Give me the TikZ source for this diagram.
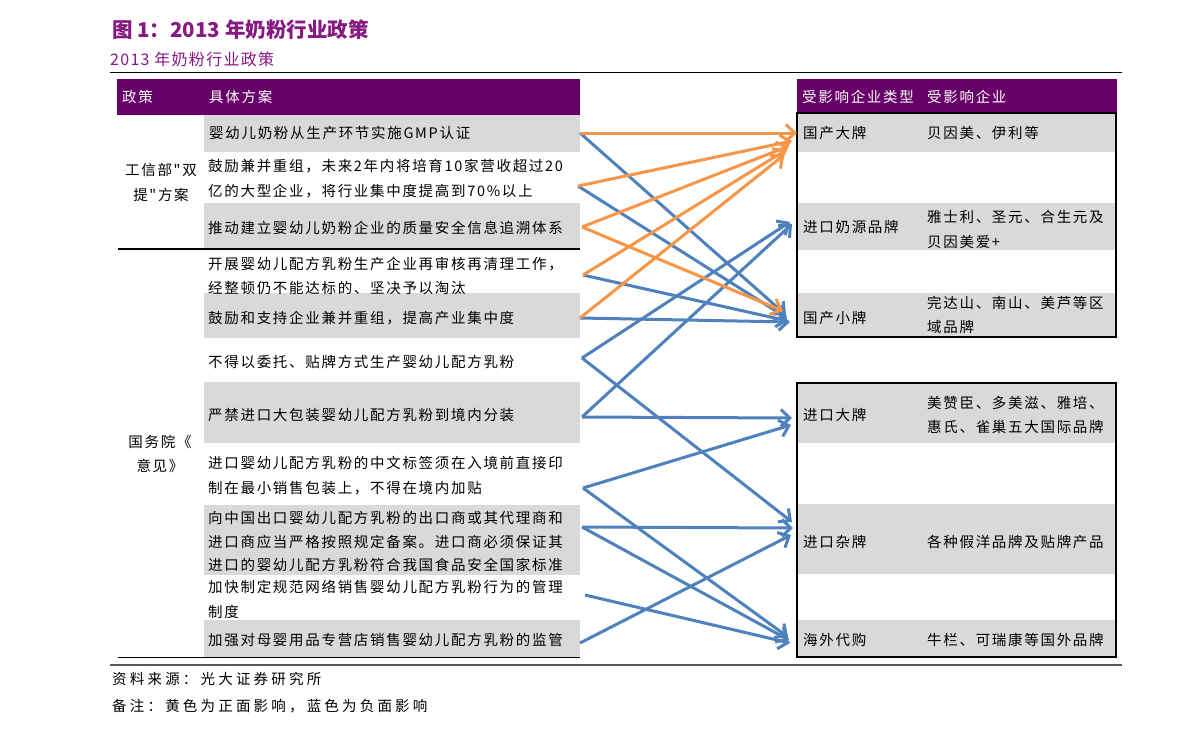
\documentclass[tikz,border=0pt]{standalone}
\usepackage{fontspec}
\setmainfont{Noto Sans CJK SC}
\newfontfamily\bodyf[LetterSpace=11.7]{Noto Sans CJK SC}
\newfontfamily\footf[LetterSpace=22]{Noto Sans CJK SC}
\newfontfamily\subf[LetterSpace=8]{Noto Sans CJK SC}
\usetikzlibrary{arrows.meta}
\definecolor{hdr}{HTML}{660066}
\definecolor{ttl}{RGB}{135,25,130}
\definecolor{rowg}{HTML}{D9D9D9}
\definecolor{pos}{HTML}{F79646}
\definecolor{neg}{HTML}{4F81BD}
\tikzset{
  body/.style={anchor=west,inner sep=0pt,align=left,font=\bodyf\fontsize{14.5pt}{24.5pt}\selectfont},
  lbl/.style={inner sep=0pt,align=center,font=\bodyf\fontsize{14.5pt}{24.5pt}\selectfont},
  hdrtxt/.style={anchor=west,inner sep=0pt,text=white,font=\bodyf\fontsize{14.5pt}{17pt}\selectfont},
  foot/.style={anchor=west,inner sep=0pt,font=\footf\fontsize{14.5pt}{17pt}\selectfont},
  conn/.style={line width=3pt,line join=miter,-{Straight Barb[length=9pt,width=17pt]}},
  posarr/.style={conn,draw=pos},
  negarr/.style={conn,draw=neg}
}
\begin{document}
\begin{tikzpicture}[x=1pt,y=-1pt]
\useasboundingbox[fill=white] (0,0) rectangle (1191,734);
% title
\node[anchor=west,inner sep=0pt,text=ttl,font=\bfseries\fontsize{20.5pt}{24pt}\selectfont] (title) at (112,30) {图 1：2013 年奶粉行业政策};
\node[anchor=west,inner sep=0pt,text=ttl,font=\subf\fontsize{16pt}{19pt}\selectfont] (sub) at (110,59) {2013 年奶粉行业政策};
\draw[line width=1.3pt] (110,72.5) -- (1122,72.5);
% left header
\fill[hdr] (117,79) rectangle (580,115);
\node[hdrtxt] (h1) at (122,97) {政策};
\node[hdrtxt] (h2) at (209,97) {具体方案};
% left rows
\fill[rowg] (204,115) rectangle (580,152);
\fill[rowg] (204,203) rectangle (580,248);
\fill[rowg] (204,293) rectangle (580,338);
\fill[rowg] (204,382) rectangle (580,443);
\fill[rowg] (204,505) rectangle (580,575);
\fill[rowg] (204,620) rectangle (580,657);
\draw[line width=1.2pt] (118,249) -- (580,249);
\draw[line width=1.6pt] (118,657.5) -- (580,657.5);
\draw[line width=1.3pt,black!65] (110,665) -- (1122,665);
\node[lbl] (g1) at (161,182.5) {工信部"双\\提"方案};
\node[lbl] (g2) at (160,454) {国务院《\\意见》};
\node[body] (r1) at (209,133) {婴幼儿奶粉从生产环节实施GMP认证};
\node[body] (r2) at (208,178.5) {鼓励兼并重组，未来2年内将培育10家营收超过20\\亿的大型企业，将行业集中度提高到70\%以上};
\node[body] (r3) at (208,228) {推动建立婴幼儿奶粉企业的质量安全信息追溯体系};
\node[body] (r4) at (208,276) {开展婴幼儿配方乳粉生产企业再审核再清理工作，\\经整顿仍不能达标的、坚决予以淘汰};
\node[body] (r5) at (208,318) {鼓励和支持企业兼并重组，提高产业集中度};
\node[body] (r6) at (208,362) {不得以委托、贴牌方式生产婴幼儿配方乳粉};
\node[body] (r7) at (208,415) {严禁进口大包装婴幼儿配方乳粉到境内分装};
\node[body] (r8) at (208,475.5) {进口婴幼儿配方乳粉的中文标签须在入境前直接印\\制在最小销售包装上，不得在境内加贴};
\node[body,font=\bodyf\fontsize{14.5pt}{23.5pt}\selectfont] (r9) at (208,541.5) {向中国出口婴幼儿配方乳粉的出口商或其代理商和\\进口商应当严格按照规定备案。进口商必须保证其\\进口的婴幼儿配方乳粉符合我国食品安全国家标准};
\node[body] (r10) at (208,599.5) {加快制定规范网络销售婴幼儿配方乳粉行为的管理\\制度};
\node[body] (r11) at (208,640) {加强对母婴用品专营店销售婴幼儿配方乳粉的监管};
% right header
\fill[hdr] (797,79) rectangle (1117,113);
\node[hdrtxt] (h3) at (802,97) {受影响企业类型};
\node[hdrtxt] (h4) at (927,97) {受影响企业};
% right box 1
\fill[rowg] (797,113) rectangle (1116,152);
\fill[rowg] (797,203) rectangle (1116,250);
\fill[rowg] (797,293) rectangle (1116,337);
\node[body] (t1) at (803,133) {国产大牌};
\node[body] (e1) at (927,133) {贝因美、伊利等};
\node[body] (t2) at (803,227) {进口奶源品牌};
\node[body] (e2) at (927,229.5) {雅士利、圣元、合生元及\\贝因美爱+};
\node[body] (t3) at (803,318) {国产小牌};
\node[body] (e3) at (927,315) {完达山、南山、美芦等区\\域品牌};
\draw[line width=1.8pt] (797,113) rectangle (1116,337);
% right box 2
\fill[rowg] (797,383) rectangle (1116,443);
\fill[rowg] (797,504) rectangle (1116,574);
\fill[rowg] (797,620) rectangle (1116,657);
\node[body] (t4) at (803,415) {进口大牌};
\node[body] (e4) at (927,415) {美赞臣、多美滋、雅培、\\惠氏、雀巢五大国际品牌};
\node[body] (t5) at (803,542) {进口杂牌};
\node[body] (e5) at (927,542) {各种假洋品牌及贴牌产品};
\node[body] (t6) at (803,640) {海外代购};
\node[body] (e6) at (927,640) {牛栏、可瑞康等国外品牌};
\draw[line width=1.8pt] (797,383) rectangle (1116,657);
% footer
\node[foot] (f1) at (112,679) {资料来源：光大证券研究所};
\node[foot] (f2) at (112,706) {备注：黄色为正面影响，蓝色为负面影响};
% connector ends
\coordinate (L1) at (580,133);
\coordinate (L2) at (578,186);
\coordinate (L3) at (582,227);
\coordinate (L4) at (583,275);
\coordinate (L5) at (580,318);
\coordinate (L6) at (582,358);
\coordinate (L7) at (582,417);
\coordinate (L8) at (583,488);
\coordinate (L9) at (582,527);
\coordinate (L10) at (585,595);
\coordinate (L11) at (580,643);
\coordinate (T1) at (797,133);
\coordinate (T2) at (791,223);
\coordinate (T3) at (787,317);
\coordinate (T4) at (792,418);
\coordinate (T5) at (793,528);
\coordinate (T6) at (789,640);
% negative (blue)
\draw[negarr] (L1) -- ([shift={(-1,-2)}]T3);
\draw[negarr] (L2) -- ([shift={(0,1)}]T3);
\draw[negarr] (L4) -- ([shift={(1,4)}]T3);
\draw[negarr] (L5) -- ([shift={(3,5)}]T3);
\draw[negarr] (L6) -- ([shift={(-1,-1)}]T2);
\draw[negarr] (L7) -- ([shift={(1,1)}]T2);
\draw[negarr] (L6) -- ([shift={(-1,-6)}]T5);
\draw[negarr] (L7) -- (T4);
\draw[negarr] (L8) -- ([shift={(-1,7)}]T4);
\draw[negarr] (L9) -- (T5);
\draw[negarr] (L11) -- ([shift={(-2,7)}]T5);
\draw[negarr] (L8) -- ([shift={(-1,-3)}]T6);
\draw[negarr] (L9) -- (T6);
\draw[negarr] (L10) -- ([shift={(1,3)}]T6);
% positive (orange)
\draw[posarr] (L1) -- (T1);
\draw[posarr] (L2) -- ([shift={(-5,8)}]T1);
\draw[posarr] (L3) -- ([shift={(-8,13)}]T1);
\draw[posarr] (L4) -- ([shift={(-11,17)}]T1);
\draw[posarr] (L5) -- ([shift={(-13,22)}]T1);
\draw[posarr] (L3) -- ([shift={(-4,-6)}]T3);
\end{tikzpicture}
\end{document}
